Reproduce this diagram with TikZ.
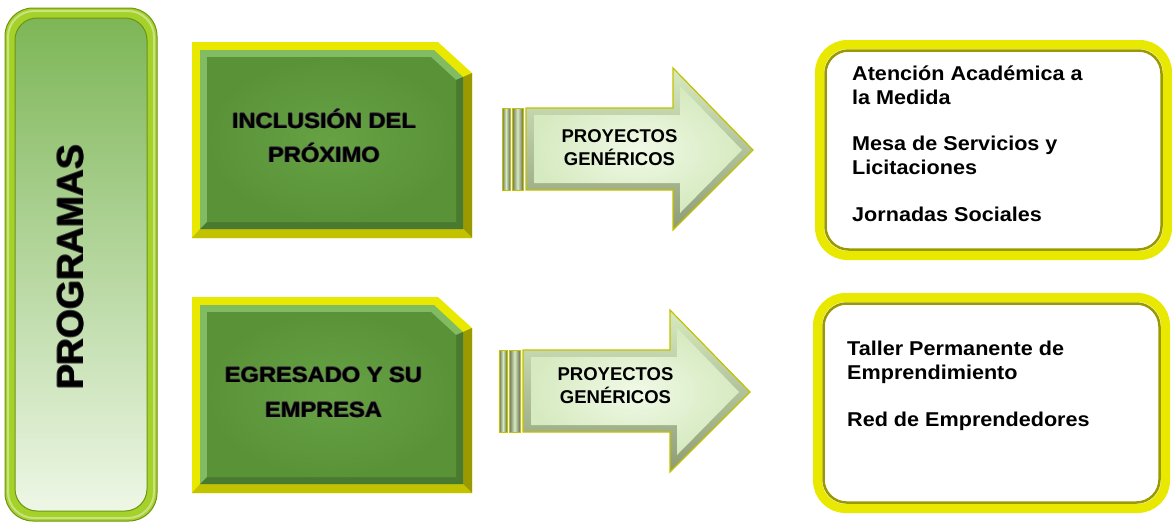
\documentclass[tikz,border=0pt]{standalone}
\usepackage{fontspec}
\setmainfont{Liberation Sans}
\newfontfamily\wide{Liberation Sans}[FakeStretch=1.08]
\newfontfamily\widebox{Liberation Sans}[FakeStretch=1.1]
\newcommand\heavytxt[2][0.7pt]{\leavevmode
  \rlap{\kern-#1\textcolor{black!75}{#2}}\rlap{\kern#1\textcolor{black!75}{#2}}%
  \rlap{\raisebox{#1}{\textcolor{black!75}{#2}}}\rlap{\raisebox{-#1}{\textcolor{black!75}{#2}}}#2}
\definecolor{lime}{HTML}{A5D12B}
\definecolor{limedark}{HTML}{6E9410}
\definecolor{gtop}{HTML}{7DB657}
\definecolor{gbot}{HTML}{EEF7E6}
\definecolor{ybright}{HTML}{E8E800}
\definecolor{ydark}{HTML}{9A9A00}
\definecolor{ymid}{HTML}{C2C200}
\definecolor{boxgreen}{HTML}{66A244}
\definecolor{boxgreenedge}{HTML}{5A9238}
\definecolor{boxgreenlt}{HTML}{82BC62}
\definecolor{boxgreendk}{HTML}{4A7A30}
\definecolor{arrlight}{HTML}{F0F9E6}
\definecolor{arrmid}{HTML}{D6EAC0}
\definecolor{arrdark}{HTML}{8E9C76}
\definecolor{stripedark}{HTML}{6A7052}
\tikzset{
  item/.style={font=\wide\fontsize{20}{22}\selectfont\bfseries, anchor=base west, inner sep=0pt},
  boxtext/.style={font=\widebox\fontsize{21.5}{26}\selectfont\bfseries, anchor=base, inner sep=0pt},
  arrtext/.style={font=\fontsize{18.5}{22}\selectfont\bfseries, anchor=base, inner sep=0pt},
  titletext/.style={font=\fontsize{37}{40}\selectfont\bfseries, anchor=base, inner sep=0pt, rotate=90}
}
\begin{document}
\begin{tikzpicture}[x=1pt,y=-1pt]
\useasboundingbox (0,0) rectangle (1172,525);

% PROGRAMAS column
\draw[draw=limedark, line width=1, fill=lime, rounded corners=28] (5,8) rectangle (157,521);
\draw[draw=lime!60!white, line width=2, rounded corners=26] (8,11) rectangle (154,518);
\draw[draw=limedark, line width=1, top color=gtop, bottom color=gbot, rounded corners=22] (15,18) rectangle (147,511);
\node[titletext] (prog) at (83,267.5) {\heavytxt[0.9pt]{PROGRAMAS}};

% Green program boxes
\foreach \dy in {0,255}{
\begin{scope}[shift={(0,\dy)}]
  \fill[ybright] (192,42) -- (438,42) -- (472,73) -- (472,238) -- (192,238) -- cycle;
  \fill[ydark] (472,73) -- (472,238) -- (463,229) -- (463,77) -- cycle;
  \fill[ymid] (192,238) -- (472,238) -- (463,229) -- (200,229) -- cycle;
  \fill[boxgreenlt] (200,50) -- (434,50) -- (463,77) -- (463,229) -- (200,229) -- cycle;
  \fill[boxgreendk] (463,77) -- (463,229) -- (200,229) -- (207,222) -- (456,222) -- (456,80) -- cycle;
  \shade[inner color=boxgreen, outer color=boxgreenedge] (207,57) -- (431,57) -- (456,80) -- (456,222) -- (207,222) -- cycle;
\end{scope}
}
\node[boxtext] (inc1) at (324,128) {\heavytxt{INCLUSIÓN DEL}};
\node[boxtext] (inc2) at (324,162) {\heavytxt{PRÓXIMO}};
\node[boxtext] (egr1) at (323.5,382) {\heavytxt{EGRESADO Y SU}};
\node[boxtext] (egr2) at (323.5,417) {\heavytxt{EMPRESA}};

% Arrows
\foreach \dx/\dy in {0/0,-3/242}{
\begin{scope}[shift={(\dx,\dy)}]
  \shade[left color=stripedark, right color=stripedark, middle color=arrmid] (502,108) rectangle (510,190);
  \draw[ymid, line width=0.8] (502,108) rectangle (510,190);
  \shade[left color=stripedark, right color=stripedark, middle color=arrmid] (512,108) rectangle (523,190);
  \draw[ymid, line width=0.8] (512,108) rectangle (523,190);
  \shade[top color=arrmid, bottom color=arrdark] (526,108) -- (673,108) -- (673,68) -- (753,150) -- (673,230) -- (673,190) -- (526,190) -- cycle;
  \shade[inner color=arrlight, outer color=arrmid] (534,115) -- (680,115) -- (680,86) -- (742,150) -- (680,213) -- (680,183) -- (534,183) -- cycle;
  \draw[ymid, line width=1.2, line join=miter] (526,108) -- (673,108) -- (673,68) -- (753,150) -- (673,230) -- (673,190) -- (526,190) -- cycle;
\end{scope}
}
\node[arrtext] (pg1a) at (619.5,142) {PROYECTOS};
\node[arrtext] (pg1b) at (619.5,165) {GENÉRICOS};
\node[arrtext] (pg2a) at (615.5,380) {PROYECTOS};
\node[arrtext] (pg2b) at (615.5,403) {GENÉRICOS};

% Right boxes
\foreach \dx/\dy in {0/0,-2/253}{
\begin{scope}[shift={(\dx,\dy)}]
  \draw[line width=9, draw=ybright, fill=white, rounded corners=28] (819.5,44.5) rectangle (1167.5,255.5);
  \draw[line width=2.5, draw=ydark, rounded corners=23] (825.5,50.5) rectangle (1161.5,249.5);
\end{scope}
}
\node[item] (r1) at (852,80) {Atención Académica a};
\node[item] (r2) at (852,104.5) {la Medida};
\node[item] (r3) at (852,150) {Mesa de Servicios y};
\node[item] (r4) at (852,174.5) {Licitaciones};
\node[item] (r5) at (852,221) {Jornadas Sociales};
\node[item] (s1) at (847,355) {Taller Permanente de};
\node[item] (s2) at (847,379.5) {Emprendimiento};
\node[item] (s3) at (847,426.5) {Red de Emprendedores};
\end{tikzpicture}
\end{document}
